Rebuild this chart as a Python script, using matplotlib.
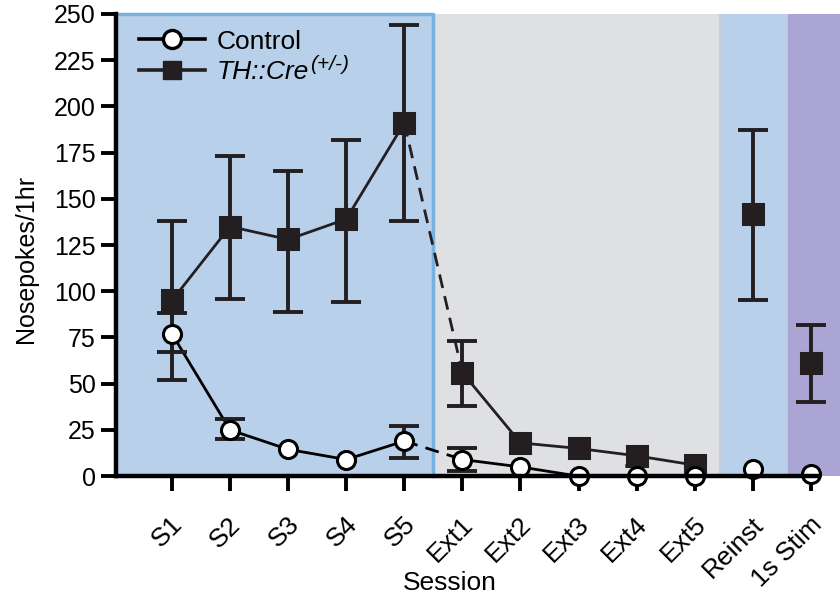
import numpy as np
import matplotlib
matplotlib.use("Agg")
import matplotlib.pyplot as plt
from matplotlib.transforms import ScaledTranslation

plt.rcParams["font.family"] = ["Liberation Sans", "DejaVu Sans"]

sessions = ["S1", "S2", "S3", "S4", "S5", "Ext1", "Ext2", "Ext3", "Ext4", "Ext5",
            "Reinst", "1s Stim"]

# means
cre_mean = [95, 135, 128, 139, 191, 56, 18, 15, 11, 6, 142, 61]
ctl_mean = [77, 25, 14.5, 9, 19, 9, 5, 0, 0, 0, 4, 1]

# error bar extents (lower, upper); None where the bar hides behind the marker
cre_lo = [52, 96, 89, 94, 138, 38, None, None, None, None, 95, 40]
cre_hi = [138, 173, 165, 182, 244, 73, None, None, None, None, 187, 82]
ctl_lo = [67, 20, None, None, 10, 3, None, None, None, None, None, None]
ctl_hi = [88, 31, None, None, 27, 15, None, None, None, None, None, None]

# background phases: (start, end) in session units
phase_train = (-0.964, 4.49)
phase_ext = (4.49, 9.43)
phase_reinst = (9.43, 10.60)
phase_stim = (10.60, 11.5)

x = np.arange(len(sessions))

fig = plt.figure(figsize=(8.4, 6.02), dpi=100)
ax = fig.add_axes([0.138, 0.209, 0.862, 0.768])

ax.axvspan(*phase_train, color="#b9d0eb", zorder=0)
ax.axvspan(*phase_ext, color="#dfe0e3", zorder=0)
ax.axvspan(*phase_reinst, color="#b9d0eb", zorder=0)
ax.axvspan(*phase_stim, color="#aaa5d4", zorder=0)
ax.plot([phase_train[0], phase_train[1], phase_train[1]], [250, 250, 0],
        color="#78b0de", lw=2.5, zorder=1, clip_on=False)
ax.plot([phase_ext[1], phase_ext[1]], [0, 250], color="#c6ced9", lw=2, zorder=1)

lw = 2.0
mk = dict(markeredgewidth=2.2, zorder=5, clip_on=False)


def err(ax, xs, mean, lo, hi):
    idx = [i for i in range(len(xs)) if lo[i] is not None]
    m = np.array([mean[i] for i in idx], dtype=float)
    yerr = [m - np.array([lo[i] for i in idx]), np.array([hi[i] for i in idx]) - m]
    ax.errorbar(xs[idx], m, yerr=yerr, fmt="none", ecolor="#231f20",
                elinewidth=2.8, capsize=11, capthick=2.8, zorder=4)


def segments(ax, xs, ys, **kw):
    ax.plot(xs[0:5], ys[0:5], ls="-", **kw)
    ax.plot(xs[4:6], ys[4:6], ls=(0, (5, 3)), **kw)
    ax.plot(xs[5:10], ys[5:10], ls="-", **kw)


cre = np.array(cre_mean, dtype=float)
ctl = np.array(ctl_mean, dtype=float)

err(ax, x, cre_mean, cre_lo, cre_hi)
segments(ax, x, cre, color="#231f20", lw=lw, zorder=3)
ax.plot(x, cre, ls="none", marker="s", ms=14, mfc="#231f20", mec="#231f20", **mk)

# small green cap visible under the Ext4 square
ax.hlines(5.5, 7.8, 8.2, color="#1b8a3c", lw=2.6, zorder=4)

err(ax, x, ctl_mean, ctl_lo, ctl_hi)
segments(ax, x, ctl, color="black", lw=lw, zorder=3)
ax.plot(x, ctl, ls="none", marker="o", ms=13, mfc="white", mec="black", **mk)

h_ctl, = ax.plot([], [], color="black", lw=2.6, marker="o", ms=13, mfc="white",
                 mec="black", markeredgewidth=2.4)
h_cre, = ax.plot([], [], color="#231f20", lw=2.6, marker="s", ms=13,
                 mfc="#231f20", mec="#231f20")
leg = ax.legend([h_ctl, h_cre], ["Control", "TH::Cre"],
                loc="upper left", bbox_to_anchor=(0.01, 1.0), frameon=False,
                fontsize=19, handlelength=2.5, handletextpad=0.45,
                labelspacing=0.25, borderaxespad=0.2)
leg.get_texts()[1].set_fontstyle("italic")

ax.set_xlim(phase_train[0], phase_stim[1])
ax.set_ylim(0, 250)
ax.set_yticks(np.arange(0, 251, 25))
ax.set_xticks(x)
ax.set_xticklabels(sessions, rotation=45, ha="right", rotation_mode="anchor")
ax.tick_params(axis="both", width=2.8, length=11, labelsize=18, color="black")
ax.tick_params(axis="x", labelsize=19, pad=15)
shift = ScaledTranslation(-1 / 72, 0, fig.dpi_scale_trans)
for lab in ax.get_xticklabels():
    lab.set_transform(lab.get_transform() + shift)

for s in ("top", "right"):
    ax.spines[s].set_visible(False)
for s in ("left", "bottom"):
    ax.spines[s].set_linewidth(3.2)
    ax.spines[s].set_zorder(6)
ax.spines["bottom"].set_bounds(phase_train[0], 11.12)

ax.set_ylabel("Nosepokes/1hr", fontsize=18)
ax.yaxis.set_label_coords(-0.108, 0.47)
ax.set_xlabel("Session", fontsize=19)
ax.xaxis.set_label_coords(0.461, -0.205)

# superscript for the genotype label, placed right after the legend text
fig.canvas.draw()
bb = leg.get_texts()[1].get_window_extent()
fig.text(bb.x1 + 1, bb.y1 - 4, "(+/-)", fontsize=15, fontstyle="italic",
         ha="left", va="center", transform=None)

fig.savefig("out.png", dpi=100)
